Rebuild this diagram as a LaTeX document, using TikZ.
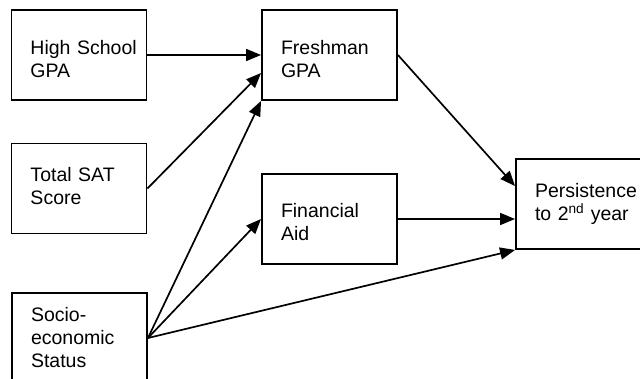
\documentclass[tikz,border=0pt]{standalone}
\usepackage{fontspec}
\setmainfont{Liberation Sans}
\usetikzlibrary{arrows.meta,calc}
% invisible struts that nudge a text block down (\lower) or up (\raise)
\newcommand{\lowerby}[1]{\rule{0pt}{\dimexpr14.3pt+2\dimexpr#1\relax\relax}}
\newcommand{\raiseby}[1]{\rule[-2\dimexpr#1\relax]{0pt}{0pt}}
\begin{document}
\begin{tikzpicture}[x=1pt,y=-1pt,
  var/.style={draw, line width=1.9pt, minimum width=135pt, minimum height=90pt,
    inner xsep=19pt, text width=97pt, align=left,
    font=\fontsize{19.5}{23}\selectfont},
  path/.style={line width=1.7pt, -{Triangle[length=15pt,width=12pt]}}]
  \useasboundingbox (0,0) rectangle (640,379);
  \clip (0,0) rectangle (640,379);
  % predictors
  \node[var] (hs)  at (79,55)    {\lowerby{4pt}\mbox{High School}\\GPA};
  \node[var] (sat) at (79,188.5) {\mbox{Total SAT}\\Score\raiseby{2.5pt}};
  \node[var] (ses) at (79.5,338) {Socio-\\economic\\Status};
  % intermediate outcomes
  \node[var] (fr)  at (329.5,55) {\lowerby{4pt}Freshman\\GPA};
  \node[var] (fa)  at (329.5,219){\lowerby{3pt}Financial\\Aid};
  % final outcome
  \node[var] (pe)  at (583.5,204){\mbox{Persistence}\\\mbox{to 2\textsuperscript{nd} year}};
  % paths
  \draw[path] (hs.east)  -- (fr.west);
  \draw[path] (sat.east) -- ($(fr.west)+(0,18)$);
  \draw[path] (ses.east) -- (fr.south west);
  \draw[path] (ses.east) -- (fa.west);
  \draw[path] (ses.east) -- (pe.south west);
  \draw[path] (fr.east)  -- ($(pe.north west)+(0,28)$);
  \draw[path] (fa.east)  -- (fa.east -| pe.west);
\end{tikzpicture}
\end{document}
